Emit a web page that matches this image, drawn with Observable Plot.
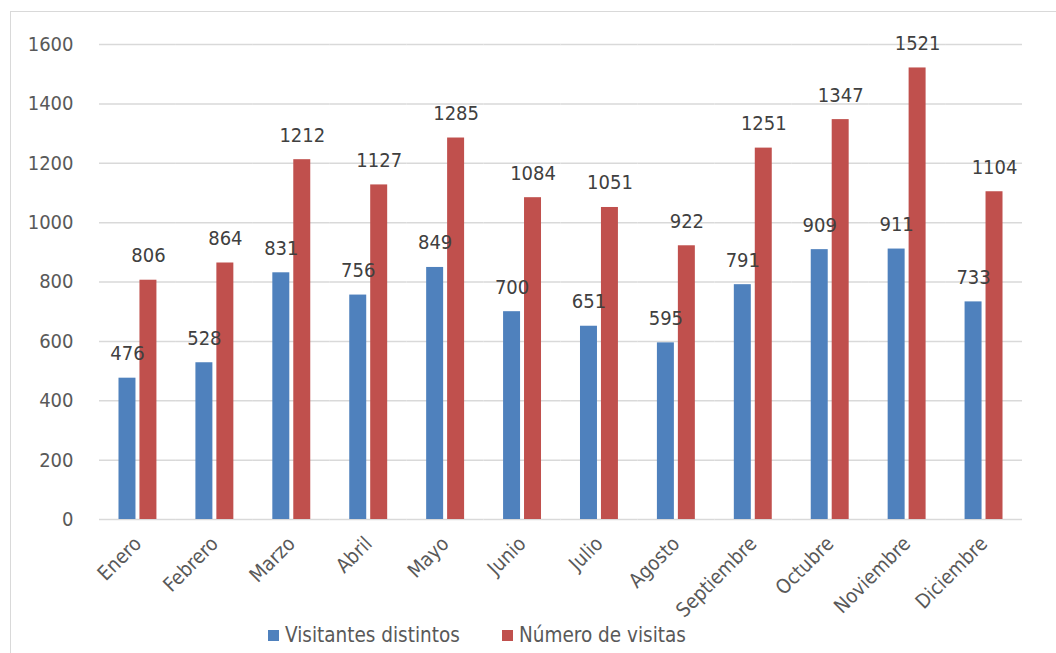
<!DOCTYPE html>
<html>
<head>
<meta charset="utf-8">
<script src="https://cdn.jsdelivr.net/npm/d3@7"></script>
<script src="https://cdn.jsdelivr.net/npm/@observablehq/plot@0.6"></script>
<style>
  html, body { margin: 0; padding: 0; background: #fff; overflow: hidden; width: 1056px; height: 653px; }
  #border { position: absolute; left: 10px; top: 11px; width: 1100px; height: 1000px; border: 1.5px solid #d9d9d9; box-sizing: border-box; }
  #chart { position: absolute; left: 0; top: 0; }
  #legend { position: absolute; top: 623px; left: 0; width: 1056px; font-family: "DejaVu Sans Condensed", "DejaVu Sans", sans-serif; font-stretch: condensed; font-size: 20.5px; color: #595959; }
  .item { position: absolute; display: flex; align-items: center; white-space: nowrap; }
  .sw { width: 11px; height: 11px; margin-right: 6px; }
</style>
</head>
<body>
<div id="border"></div>
<div id="chart"></div>
<div id="legend"></div>
<script>
const months = ["Enero","Febrero","Marzo","Abril","Mayo","Junio","Julio","Agosto","Septiembre","Octubre","Noviembre","Diciembre"];
const series = ["Visitantes distintos","Número de visitas"];
const colors = ["#4F81BD","#C0504D"];
const visitantes = [476,528,831,756,849,700,651,595,791,909,911,733];
const visitas = [806,864,1212,1127,1285,1084,1051,922,1251,1347,1521,1104];
const yTicks = [0,200,400,600,800,1000,1200,1400,1600];

const data = [];
months.forEach((m, i) => {
  data.push({month: m, series: series[0], value: visitantes[i]});
  data.push({month: m, series: series[1], value: visitas[i]});
});

const font = '"DejaVu Sans Condensed", "DejaVu Sans", sans-serif';

const chart = Plot.plot({
  width: 1056,
  height: 622,
  marginLeft: 99,
  marginRight: 34,
  marginTop: 44,
  marginBottom: 103,
  style: {fontFamily: font, fontSize: "20px", color: "#595959", background: "transparent", fontStretch: "condensed"},
  fx: {domain: months, padding: 0, round: false, label: null, axis: "bottom", tickRotate: -45, tickSize: 0, tickPadding: 21},
  x: {domain: series, paddingInner: 0.19, paddingOuter: 0.93, round: false, axis: null},
  y: {domain: [0, 1600], ticks: yTicks, tickFormat: d => String(d), label: null, tickSize: 0, tickPadding: 26},
  color: {domain: series, range: colors},
  marks: [
    Plot.gridY(yTicks, {stroke: "#d9d9d9", strokeOpacity: 1, strokeWidth: 1.5}),
    Plot.barY(data, {fx: "month", x: "series", y: "value", fill: "series"}),
    Plot.text(data, {fx: "month", x: "series", y: "value", text: d => String(d.value), lineAnchor: "bottom", dy: -18, fill: "#404040", fontSize: 20})
  ]
});
document.getElementById("chart").appendChild(chart);

const legend = document.getElementById("legend");
const lx = [268, 502];
series.forEach((s, i) => {
  const it = document.createElement("div");
  it.className = "item";
  it.style.left = lx[i] + "px";
  const sw = document.createElement("div");
  sw.className = "sw";
  sw.style.background = colors[i];
  const t = document.createElement("span");
  t.textContent = s;
  it.appendChild(sw); it.appendChild(t);
  legend.appendChild(it);
});
</script>
</body>
</html>
